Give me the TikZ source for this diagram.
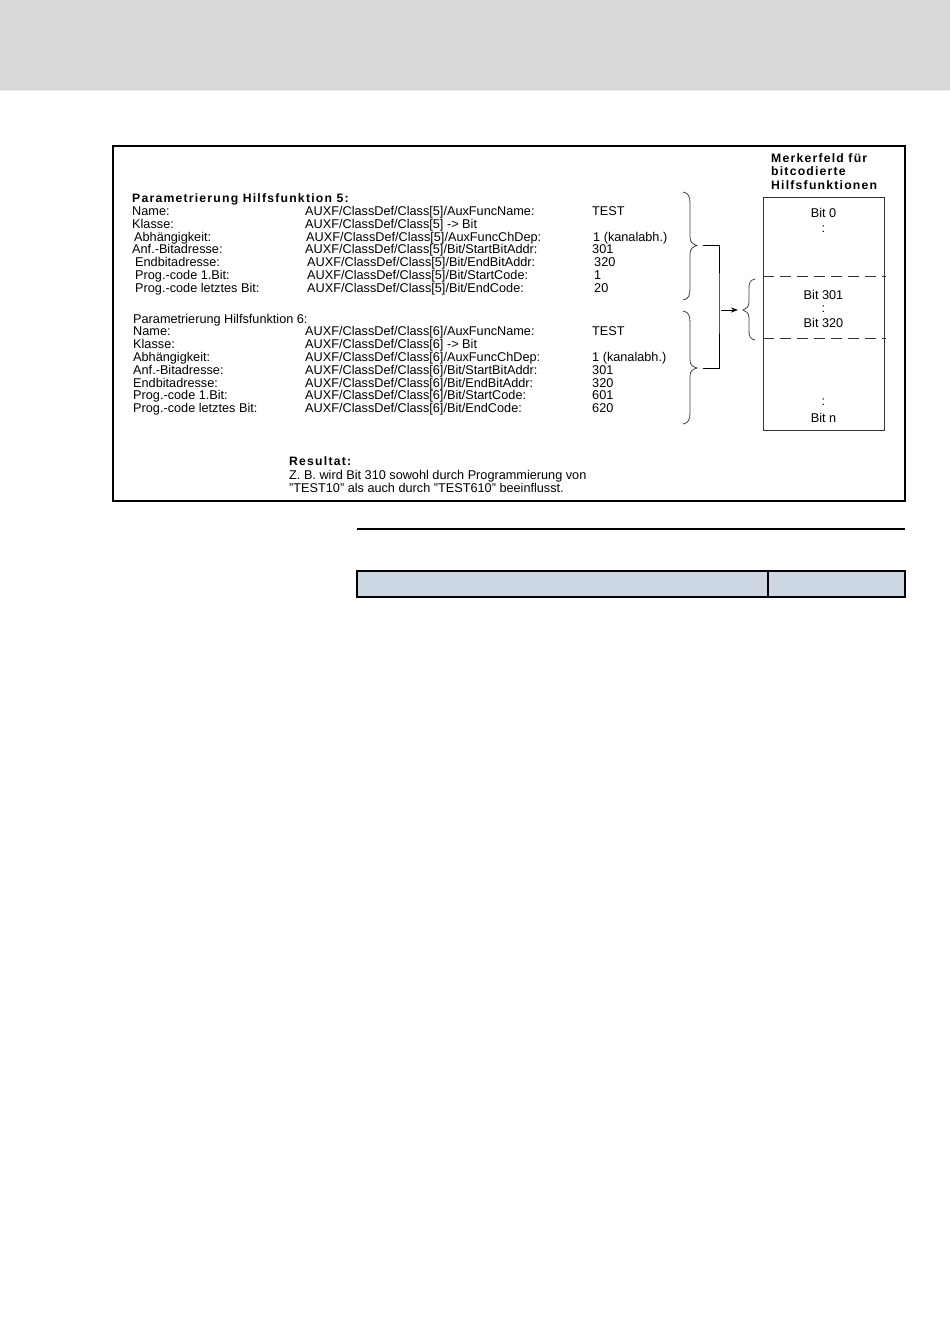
\documentclass[tikz,border=0pt]{standalone}
\usepackage{fontspec}
\setmainfont{Liberation Sans}
\newfontfamily\tbold[LetterSpace=10]{Liberation Sans Bold}
\usetikzlibrary{arrows.meta}
\definecolor{band}{HTML}{D9D9D9}
\definecolor{tabfill}{HTML}{CDD7E3}
\begin{document}
\begin{tikzpicture}[x=1pt,y=-1pt,
  txt/.style={anchor=base west,inner sep=0pt,font=\fontsize{12.7}{14}\selectfont},
  ttl/.style={anchor=base west,inner sep=0pt,font=\tbold\fontsize{12.2}{13}\selectfont},
  bitl/.style={anchor=base,inner sep=0pt,font=\fontsize{12.7}{14}\selectfont},
  brc/.style={line width=0.8pt,draw=black!75},
  dsh/.style={line width=0.9pt,draw=black!80,dash pattern=on 11pt off 6pt}]
\useasboundingbox (0,0) rectangle (950,1344);
\fill[band] (0,0) rectangle (950,90);
\draw[white!93!black,line width=0.8pt] (0,90.5) -- (950,90.5);
% outer frame
\draw[line width=2pt] (113,146) rectangle (905,501);
% block 5
\node[ttl] (t5) at (132,202.7) {Parametrierung Hilfsfunktion 5:};
\node[txt] (a1) at (132,215.5) {Name:};
\node[txt] (a2) at (132,228.3) {Klasse:};
\node[txt] (a3) at (134,241.1) {Abhängigkeit:};
\node[txt] (a4) at (132,253.9) {Anf.-Bitadresse:};
\node[txt] (a5) at (135,266.7) {Endbitadresse:};
\node[txt] (a6) at (135,279.5) {Prog.-code 1.Bit:};
\node[txt] (a7) at (135,292.3) {Prog.-code letztes Bit:};
\node[txt] (b1) at (305,215.5) {AUXF/ClassDef/Class[5]/AuxFuncName:};
\node[txt] (b2) at (305,228.3) {AUXF/ClassDef/Class[5] -> Bit};
\node[txt] (b3) at (306,241.1) {AUXF/ClassDef/Class[5]/AuxFuncChDep:};
\node[txt] (b4) at (305,253.9) {AUXF/ClassDef/Class[5]/Bit/StartBitAddr:};
\node[txt] (b5) at (307,266.7) {AUXF/ClassDef/Class[5]/Bit/EndBitAddr:};
\node[txt] (b6) at (307,279.5) {AUXF/ClassDef/Class[5]/Bit/StartCode:};
\node[txt] (b7) at (307,292.3) {AUXF/ClassDef/Class[5]/Bit/EndCode:};
\node[txt] (c1) at (592,215.5) {TEST};
\node[txt] (c3) at (593,241.1) {1 (kanalabh.)};
\node[txt] (c4) at (592,253.9) {301};
\node[txt] (c5) at (594,266.7) {320};
\node[txt] (c6) at (594,279.5) {1};
\node[txt] (c7) at (594,292.3) {20};
% block 6
\node[txt] (t6) at (133,323.5) {Parametrierung Hilfsfunktion 6:};
\node[txt] (d1) at (133,335.8) {Name:};
\node[txt] (d2) at (133,348.6) {Klasse:};
\node[txt] (d3) at (133,361.4) {Abhängigkeit:};
\node[txt] (d4) at (133,374.2) {Anf.-Bitadresse:};
\node[txt] (d5) at (133,387.0) {Endbitadresse:};
\node[txt] (d6) at (133,399.8) {Prog.-code 1.Bit:};
\node[txt] (d7) at (133,412.6) {Prog.-code letztes Bit:};
\node[txt] (e1) at (305,335.8) {AUXF/ClassDef/Class[6]/AuxFuncName:};
\node[txt] (e2) at (305,348.6) {AUXF/ClassDef/Class[6] -> Bit};
\node[txt] (e3) at (305,361.4) {AUXF/ClassDef/Class[6]/AuxFuncChDep:};
\node[txt] (e4) at (305,374.2) {AUXF/ClassDef/Class[6]/Bit/StartBitAddr:};
\node[txt] (e5) at (305,387.0) {AUXF/ClassDef/Class[6]/Bit/EndBitAddr:};
\node[txt] (e6) at (305,399.8) {AUXF/ClassDef/Class[6]/Bit/StartCode:};
\node[txt] (e7) at (305,412.6) {AUXF/ClassDef/Class[6]/Bit/EndCode:};
\node[txt] (f1) at (592,335.8) {TEST};
\node[txt] (f3) at (592,361.4) {1 (kanalabh.)};
\node[txt] (f4) at (592,374.2) {301};
\node[txt] (f5) at (592,387.0) {320};
\node[txt] (f6) at (592,399.8) {601};
\node[txt] (f7) at (592,412.6) {620};
% result
\node[ttl] (r0) at (289,465.5) {Resultat:};
\node[txt] (r1) at (289,479.5) {Z. B. wird Bit 310 sowohl durch Programmierung von};
\node[txt] (r2) at (289,492.5) {"TEST10" als auch durch "TEST610" beeinflusst.};
% Merkerfeld
\node[ttl] (m1) at (771,162.5) {Merkerfeld für};
\node[ttl] (m2) at (771,175.8) {bitcodierte};
\node[ttl] (m3) at (771,189.5) {Hilfsfunktionen};
\draw[line width=0.8pt,draw=black!80] (763,197) rectangle (884,430);
\draw[dsh] (763,276.5) -- (886,276.5);
\draw[dsh] (763,338) -- (886,338);
\node[bitl] (k0) at (823.5,217.5) {Bit 0};
\node[bitl] (k0d) at (823.5,232) {:};
\node[bitl] (k1) at (823.5,299.5) {Bit 301};
\node[bitl] (k1d) at (823.5,312) {:};
\node[bitl] (k2) at (823.5,327.5) {Bit 320};
\node[bitl] (k3d) at (823.5,405) {:};
\node[bitl] (k3) at (823.5,422.5) {Bit n};
% braces
\coordinate (p5) at (697,245.5);
\coordinate (p6) at (697,368);
\coordinate (jn) at (719,300);
\coordinate (as) at (721,310);
\coordinate (sb) at (743,310);
\draw[brc] (683,192) .. controls (689,193) and (690,197) .. (690,204) -- (690,237)
  .. controls (690,242) and (693,244.5) .. (p5)
  .. controls (693,246.5) and (690,249) .. (690,254) -- (690,288)
  .. controls (690,295) and (689,299) .. (683,300);
\draw[brc] (683,311) .. controls (689,312) and (690,316) .. (690,323) -- (690,360)
  .. controls (690,365) and (693,367) .. (p6)
  .. controls (693,369) and (690,371) .. (690,376) -- (690,412)
  .. controls (690,419) and (689,423) .. (683,424);
\draw[brc] (755,279) .. controls (750,280) and (749,283) .. (749,288) -- (749,302)
  .. controls (749,307) and (746,309) .. (sb)
  .. controls (746,311) and (749,313) .. (749,318) -- (749,331)
  .. controls (749,336) and (750,339) .. (755,340);
\draw[line width=0.8pt] ([xshift=6pt]p5) -| (jn) |- ([xshift=6pt]p6);
\draw[line width=0.7pt,-{Stealth[length=7pt,width=5pt]}] (as) -- ([xshift=-5pt]sb);
% bottom
\draw[line width=1.2pt] (357,529) -- (905,529);
\draw[line width=2pt,fill=tabfill] (357,571) rectangle (905,597);
\draw[line width=2pt] (768,571) -- (768,597);
\end{tikzpicture}
\end{document}
